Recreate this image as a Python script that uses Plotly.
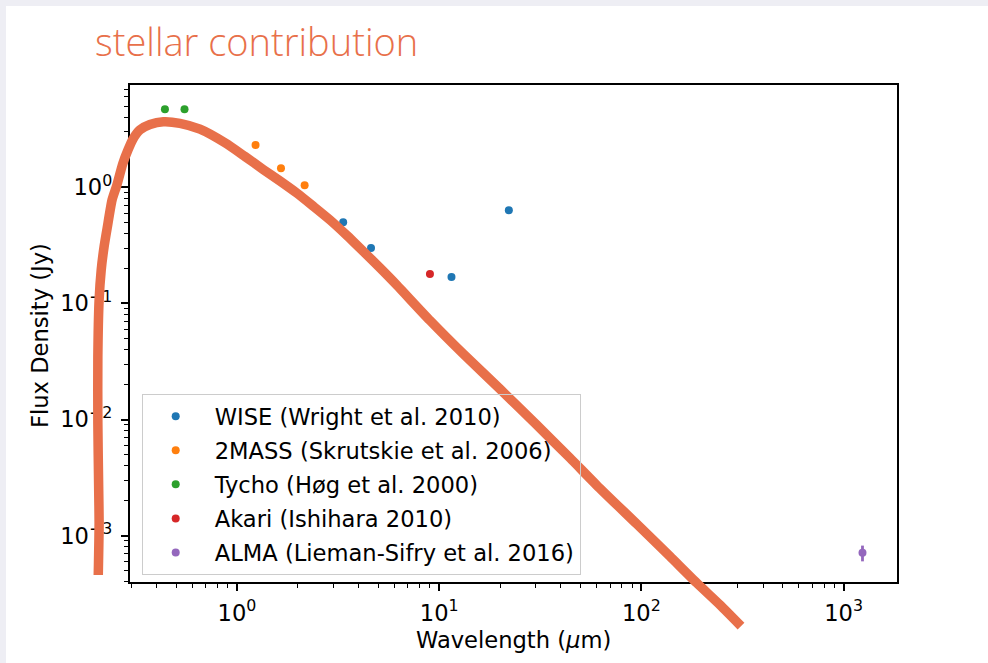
import plotly.graph_objects as go

W, H = 988, 663

# Photometry: wavelength (micron) and flux density (Jy)
wise_wl = [3.35, 4.6, 11.5, 22.1]
wise_flux = [0.50, 0.30, 0.169, 0.634]
twomass_wl = [1.235, 1.65, 2.16]
twomass_flux = [2.31, 1.46, 1.04]
tycho_wl = [0.44, 0.55]
tycho_flux = [4.70, 4.70]
akari_wl = [9.0]
akari_flux = [0.179]
alma_wl = [1240.0]
alma_flux = [7.1e-4]
alma_err = [1.1e-4]

# Hand-drawn stellar photosphere sketch (wavelength micron, flux Jy)
stellar_wl = [0.206, 0.208, 0.207, 0.205, 0.205, 0.208, 0.213, 0.220, 0.228,
              0.241, 0.254, 0.272, 0.289, 0.306, 0.331, 0.371, 0.432, 0.522,
              0.656, 0.872, 1.095, 1.349, 1.632, 1.974, 2.376, 2.884, 3.499,
              4.213, 5.096, 6.163, 9.006, 13.16, 19.98, 30.36, 44.36, 60.32,
              94.8, 138.5, 187.7, 244.7, 310.9]
stellar_flux = [4.58e-4, 1.28e-3, 2.47e-3, 9.33e-3, 0.0345, 0.107, 0.194, 0.306,
                0.446, 0.777, 1.03, 1.59, 2.10, 2.61, 3.12, 3.47, 3.67, 3.558,
                3.166, 2.417, 1.842, 1.423, 1.133, 0.893, 0.690, 0.523, 0.384,
                0.280, 0.202, 0.144, 0.0712, 0.0367, 0.0183, 8.97e-3, 4.66e-3,
                2.70e-3, 1.26e-3, 6.61e-4, 3.91e-4, 2.53e-4, 1.66e-4]

# Axis ticks
x_major = [1, 10, 100, 1000]
x_major_text = ["10<sup>0</sup>", "10<sup>1</sup>", "10<sup>2</sup>", "10<sup>3</sup>"]
y_major = [1e-3, 1e-2, 1e-1, 1]
y_major_text = ["10<sup>\u22123</sup>", "10<sup>\u22122</sup>", "10<sup>\u22121</sup>", "10<sup>0</sup>"]
x_minor = [m * 10 ** e for e in range(-1, 4) for m in range(2, 10)]
y_minor = [m * 10 ** e for e in range(-4, 1) for m in range(2, 10)]

# Axis ranges (log10) and placement of the plotting area
X_RANGE = [-0.5317, 3.2641]
Y_RANGE = [-3.3997, 0.8811]
X_DOM = [129.5 / W, 897 / W]
Y_DOM = [1 - 582 / H, 1 - 85 / H]


def spread(rng, dom):
    """Range of an axis spanning the whole figure with the same scale."""
    s = (rng[1] - rng[0]) / (dom[1] - dom[0])
    return [rng[0] - dom[0] * s, rng[1] + (1 - dom[1]) * s]


TAB = ["#1f77b4", "#ff7f0e", "#2ca02c", "#d62728", "#9467bd"]
SKETCH = "#e8704a"
MPL_FONT = "DejaVu Sans"
FS = 22.6

fig = go.Figure()

series = [
    ("WISE (Wright et al. 2010)", wise_wl, wise_flux, None),
    ("2MASS (Skrutskie et al. 2006)", twomass_wl, twomass_flux, None),
    ("Tycho (H\u00f8g et al. 2000)", tycho_wl, tycho_flux, None),
    ("Akari (Ishihara 2010)", akari_wl, akari_flux, None),
    ("ALMA (Lieman-Sifry et al. 2016)", alma_wl, alma_flux, alma_err),
]
for i, (name, wl, fl, err) in enumerate(series):
    fig.add_trace(go.Scatter(
        x=wl, y=fl, name=name, mode="markers", legendgroup=name,
        marker=dict(color=TAB[i], size=8, line=dict(width=0)),
        error_y=(dict(type="data", array=err, color=TAB[i], thickness=2.8, width=0)
                 if err else None),
        xaxis="x", yaxis="y",
    ))

fig.add_trace(go.Scatter(
    x=stellar_wl, y=stellar_flux, mode="lines", showlegend=False,
    line=dict(color=SKETCH, width=9.5, shape="spline", smoothing=0.6),
    xaxis="x2", yaxis="y2", hoverinfo="skip",
))

axis_common = dict(
    type="log", showgrid=False, zeroline=False,
    showline=True, linecolor="black", linewidth=1.5, mirror=True,
    ticks="outside", ticklen=7, tickwidth=1.5, tickcolor="black",
    tickfont=dict(family=MPL_FONT, size=FS, color="black"),
    tickmode="array",
)

fig.update_layout(
    width=W, height=H, autosize=False,
    margin=dict(l=0, r=0, t=0, b=0),
    paper_bgcolor="#eeeef4", plot_bgcolor="rgba(0,0,0,0)",
    xaxis=dict(**axis_common, domain=X_DOM, range=X_RANGE, anchor="y",
               tickvals=x_major, ticktext=x_major_text, ticklabelstandoff=3,
               minor=dict(tickmode="array", tickvals=x_minor, ticks="outside",
                          ticklen=4, tickwidth=1.1, tickcolor="black")),
    yaxis=dict(**axis_common, domain=Y_DOM, range=Y_RANGE, anchor="x",
               tickvals=y_major, ticktext=y_major_text, ticklabelstandoff=4,
               minor=dict(tickmode="array", tickvals=y_minor, ticks="outside",
                          ticklen=4, tickwidth=1.1, tickcolor="black")),
    xaxis2=dict(type="log", domain=[0, 1], range=spread(X_RANGE, X_DOM),
                visible=False, anchor="y2"),
    yaxis2=dict(type="log", domain=[0, 1], range=spread(Y_RANGE, Y_DOM),
                visible=False, anchor="x2"),
    legend=dict(
        x=141.7 / W, y=1 - 394 / H, xanchor="left", yanchor="top",
        bgcolor="rgba(255,255,255,0)", bordercolor="#cccccc", borderwidth=1,
        font=dict(family=MPL_FONT, size=FS, color="black"),
        tracegroupgap=1.7, itemwidth=68, indentation=-6,
    ),
    shapes=[dict(type="rect", xref="paper", yref="paper", x0=6 / W, x1=1,
                 y0=0, y1=1 - 6 / H, fillcolor="white", line=dict(width=0),
                 layer="below")],
    annotations=[
        dict(text="stellar contribution", xref="paper", yref="paper",
             x=93 / W, y=1 - 41 / H, xanchor="left", yanchor="middle",
             showarrow=False,
             font=dict(family="Open Sans", size=38, color=SKETCH, weight=300)),
        dict(text="Flux Density (Jy)", xref="paper", yref="paper",
             x=40 / W, y=1 - 336 / H, xanchor="center", yanchor="middle",
             textangle=-90, showarrow=False,
             font=dict(family=MPL_FONT, size=FS, color="black")),
        dict(text="Wavelength (<i>\u03bc</i>m)", xref="paper", yref="paper",
             x=513 / W, y=1 - 640 / H, xanchor="center", yanchor="middle",
             showarrow=False,
             font=dict(family=MPL_FONT, size=FS, color="black")),
    ],
)

fig.write_html("out.html")
